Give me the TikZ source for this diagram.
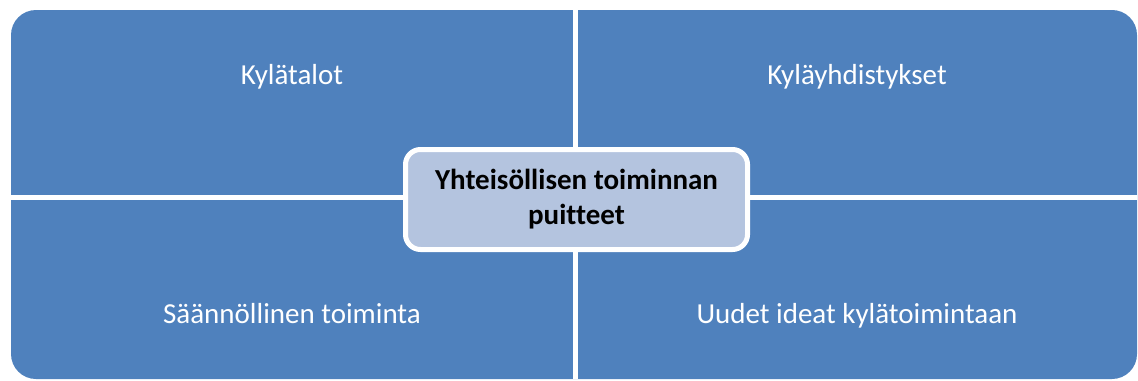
\documentclass[tikz,border=0pt]{standalone}
\usepackage{fontspec}
\setmainfont{Carlito}[Ligatures=NoCommon]
\usetikzlibrary{positioning}
\definecolor{qblue}{HTML}{4F81BD}
\definecolor{hubfill}{HTML}{B4C4DF}

\begin{document}
\begin{tikzpicture}[x=0.5pt,y=-0.5pt,
quad/.style={fill=qblue},
gap/.style={draw=white,line width=2.4pt},
lbl/.style={text=white,anchor=base,font=\fontsize{14.5}{17.5}\selectfont},
hub/.style={draw=white,line width=2.5pt,fill=hubfill,rounded corners=7.5pt,
  minimum width=171pt,minimum height=50pt,align=center,
  font=\fontsize{14.5}{17.5}\selectfont\bfseries}]
\useasboundingbox (0,0) rectangle (1138,380);

% four quarters
\fill[quad,rounded corners=12.5pt] (11,10) rectangle (1137,379);
\draw[gap] (575.3,10) -- (575.3,379);
\draw[gap] (11,197.5) -- (1137,197.5);

\node[lbl] (talot) at (292,84) {Kylätalot};
\node[lbl] (yhdist) at (857,84) {Kyläyhdistykset};
\node[lbl] (saann) at (292,323) {Säännöllinen toiminta};
\node[lbl] (ideat) at (857,323) {Uudet ideat kylätoimintaan};

\node[hub] (puitteet) at (576.5,199.5) {Yhteisöllisen toiminnan\\puitteet};

\end{tikzpicture}
\end{document}
